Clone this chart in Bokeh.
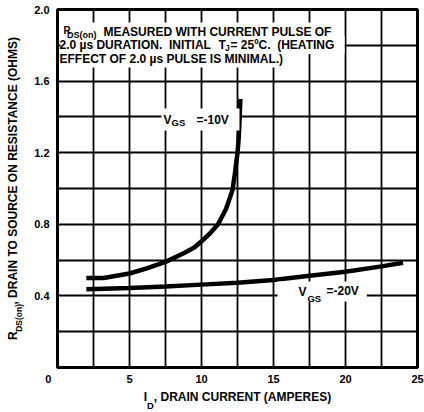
import math
from bokeh.plotting import figure
from bokeh.models import Label, FixedTicker, PrintfTickFormatter, LinearAxis
from bokeh.embed import file_html
from bokeh.resources import INLINE

# ---- data ----
id_vgs10 = [2.0, 3.2, 5.0, 6.25, 7.5, 8.8, 9.5, 10.0, 10.6, 11.15, 11.7, 12.15, 12.33, 12.5, 12.57, 12.63, 12.7]
r_vgs10 = [0.50, 0.50, 0.525, 0.555, 0.59, 0.64, 0.67, 0.705, 0.75, 0.80, 0.885, 0.99, 1.09, 1.20, 1.265, 1.36, 1.50]

id_vgs20 = [2.0, 5.0, 7.5, 10.0, 12.5, 15.0, 17.5, 20.0, 22.5, 24.0]
r_vgs20 = [0.437, 0.444, 0.452, 0.463, 0.474, 0.489, 0.512, 0.535, 0.565, 0.585]

x_ticks = [0, 5, 10, 15, 20, 25]
y_ticks = [0.4, 0.8, 1.2, 1.6, 2.0]
x_grid = [0, 2.5, 5, 7.5, 10, 12.5, 15, 17.5, 20, 22.5, 25]
y_grid = [0, 0.2, 0.4, 0.6, 0.8, 1.0, 1.2, 1.4, 1.6, 1.8, 2.0]

FONT = "Liberation Sans"
NB = "\u00a0"

p = figure(frame_width=360, frame_height=358,
           min_border_left=57, min_border_right=7, min_border_top=9, min_border_bottom=45,
           x_range=(0, 25), y_range=(0, 2),
           output_backend="svg", toolbar_location=None)
p.background_fill_color = "white"
p.border_fill_color = "white"
p.outline_line_color = "black"
p.outline_line_width = 3


def style_axis(ax, size="11px"):
    ax.axis_line_color = None
    ax.major_tick_line_color = None
    ax.minor_tick_line_color = None
    ax.major_tick_out = 0
    ax.minor_tick_out = 0
    ax.major_tick_in = 0
    ax.minor_tick_in = 0
    ax.major_label_text_font = FONT
    ax.major_label_text_font_style = "bold"
    ax.major_label_text_font_size = size
    ax.major_label_text_color = "black"
    ax.axis_label_text_font = FONT
    ax.axis_label_text_font_style = "bold"
    ax.axis_label_text_font_size = "12px"
    ax.axis_label_text_color = "black"


style_axis(p.xaxis[0])
style_axis(p.yaxis[0])

p.xaxis.ticker = FixedTicker(ticks=x_ticks)
p.xaxis.major_label_overrides = {0: "0" + NB * 6}
p.xaxis.major_label_standoff = 5
p.xaxis.axis_label = "I" + NB * 2 + ", DRAIN CURRENT (AMPERES)"
p.xaxis.axis_label_standoff = 2

p.yaxis.ticker = FixedTicker(ticks=y_ticks)
p.yaxis.formatter = PrintfTickFormatter(format="%.1f")
p.yaxis.major_label_standoff = 8
p.yaxis.axis_label = "R" + NB * 8 + ", DRAIN TO SOURCE ON RESISTANCE (OHMS)"
p.yaxis.axis_label_standoff = 11

# subscripts of the axis titles, drawn as tick labels of extra (line-less) axes
sub_x = LinearAxis(ticker=FixedTicker(ticks=[6.46]), major_label_overrides={6.46: "D"})
style_axis(sub_x, "9.5px")
sub_x.major_label_standoff = -7
p.add_layout(sub_x, "below")

sub_y = LinearAxis(ticker=FixedTicker(ticks=[0.277]), major_label_overrides={0.277: "DS(on)"},
                   major_label_orientation="vertical")
style_axis(sub_y, "8.5px")
sub_y.major_label_standoff = -21
p.add_layout(sub_y, "left")

p.xgrid.ticker = FixedTicker(ticks=x_grid)
p.ygrid.ticker = FixedTicker(ticks=y_grid)
for g in (p.xgrid, p.ygrid):
    g.grid_line_color = "black"
    g.grid_line_width = 1.8
    g.grid_line_alpha = 1.0

p.line(id_vgs10, r_vgs10, line_color="black", line_width=4.5)
p.line(id_vgs20, r_vgs20, line_color="black", line_width=4.5)


def lbl(x, y, text, size, bg=None, pad=0):
    l = Label(x=x, y=y, text=text,
              text_font=FONT, text_font_style="bold", text_font_size=f"{size}px",
              text_color="black", text_baseline="alphabetic", text_align="left",
              background_fill_color=bg, padding=pad)
    p.add_layout(l)


# white boxes behind the in-plot texts (blank text, background only)
lbl(0.21, 1.877, NB * 82, 12, bg="white", pad=2)
lbl(0.21, 1.802, NB * 84, 12, bg="white", pad=2)
lbl(0.21, 1.726, NB * 66, 12, bg="white", pad=2)
lbl(7.22, 1.385, NB * 21, 12, bg="white", pad=4)
lbl(15.28, 0.425, NB * 25, 12, bg="white", pad=3)

# note block
lbl(0.42, 1.883, "R", 10)
lbl(0.66, 1.860, "DS(on)", 9)
lbl(3.19, 1.877, "MEASURED WITH CURRENT PULSE OF", 12)
lbl(0.14, 1.802, "2.0 \u00b5s DURATION." + NB + " INITIAL", 12)
lbl(11.18, 1.802, "T", 12)
lbl(11.63, 1.785, "J", 8.5)
lbl(12.01, 1.802, "= 25\u00baC." + NB + " (HEATING", 12)
lbl(0.14, 1.726, "EFFECT OF 2.0 \u00b5s PULSE IS MINIMAL.)", 12)

# curve labels
lbl(7.36, 1.385, "V", 12)
lbl(7.92, 1.366, "GS", 9.5)
lbl(9.65, 1.385, "=-10V", 12)

lbl(16.74, 0.419, "V", 12)
lbl(17.36, 0.385, "GS", 9.5)
lbl(18.68, 0.425, "=-20V", 12)

open("out.html", "w").write(file_html(p, INLINE))
